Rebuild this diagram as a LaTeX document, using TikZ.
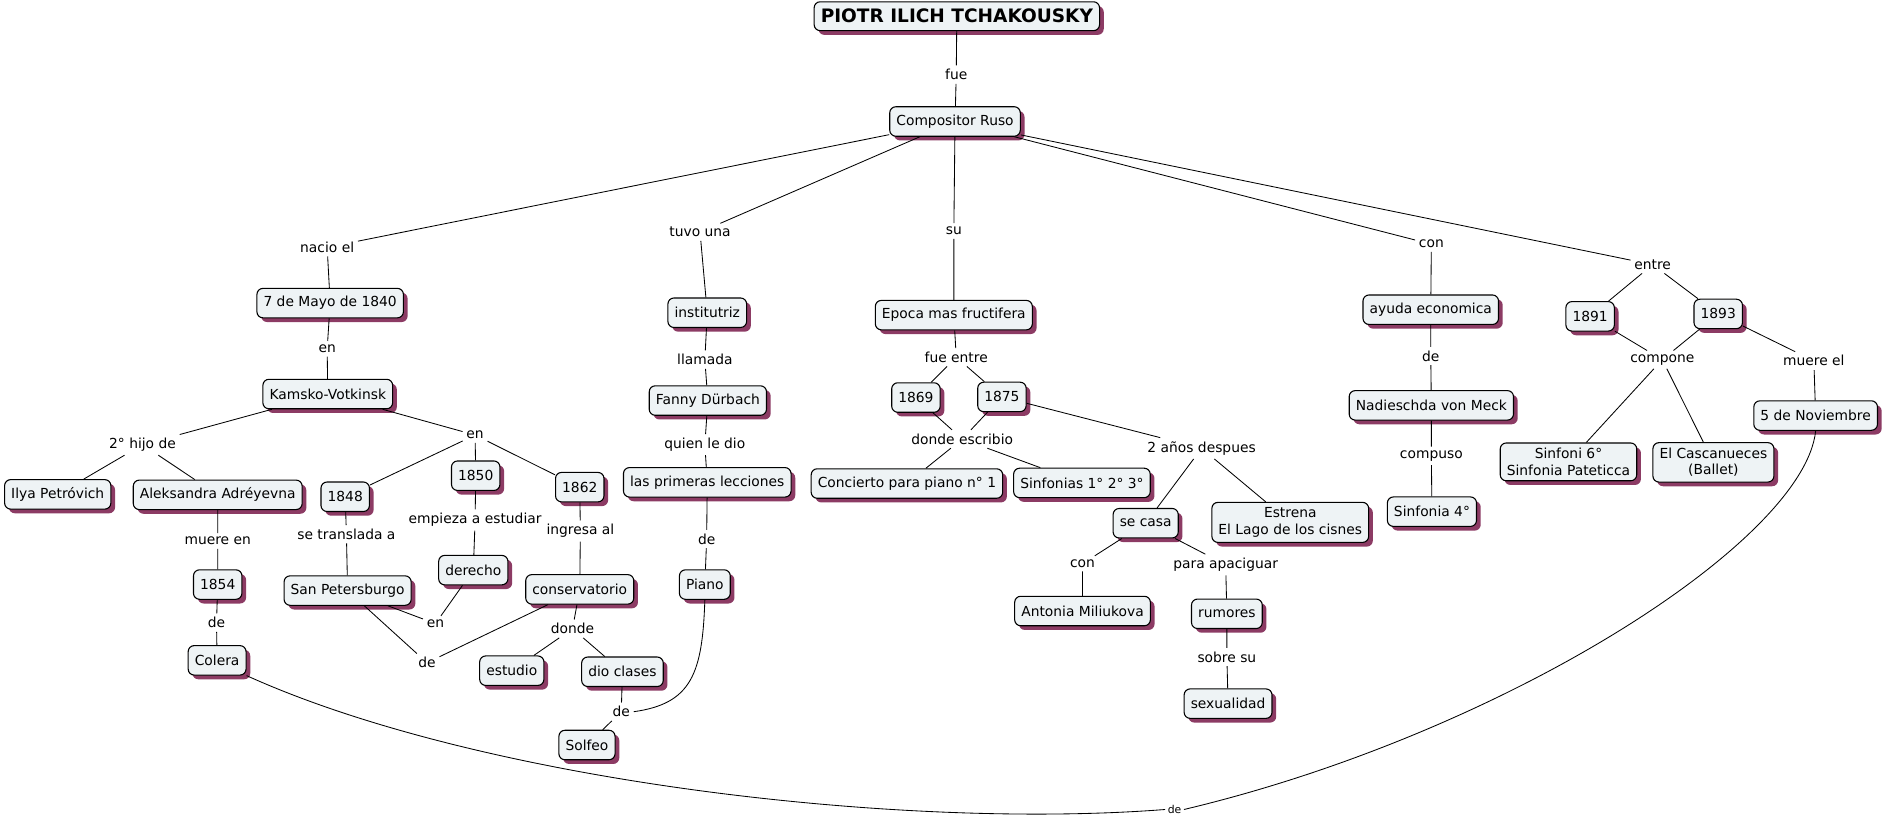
\documentclass[tikz,border=0pt]{standalone}
\usepackage{fontspec}
\setmainfont{DejaVu Sans}
\usetikzlibrary{shadows}
\definecolor{boxfill}{HTML}{EEF3F5}
\definecolor{shadowc}{HTML}{8C3B64}
\newcommand{\fs}{\fontsize{11.5}{13.5}\selectfont}
\tikzset{
  concept/.style={draw, rounded corners=5pt, fill=boxfill, line width=0.9pt,
    inner xsep=5.5pt, inner ysep=4.5pt, minimum height=24.5pt, align=center, font=\fs,
    drop shadow={shadow xshift=3.5pt, shadow yshift=-3.5pt, fill=shadowc, opacity=1}},
  link/.style={inner sep=3pt, font=\fs, align=center},
  conn/.style={line width=0.7pt, draw=black}
}
\begin{document}
\begin{tikzpicture}[x=1pt,y=-1pt]
\useasboundingbox (0,0) rectangle (1568,684);
% concepts
\node[concept, font=\fontsize{15.4}{17}\selectfont\bfseries, minimum height=24pt, inner ysep=3pt] (title) at (795.5,13.5) {PIOTR ILICH TCHAKOUSKY};
\node[concept] (comp) at (794,101) {Compositor Ruso};
\node[concept] (mayo) at (274.5,252) {7 de Mayo de 1840};
\node[concept] (kamsko) at (272.5,327.6) {Kamsko-Votkinsk};
\node[concept] (instit) at (588,260) {institutriz};
\node[concept] (fanny) at (588.5,333) {Fanny Dürbach};
\node[concept] (epoca) at (793,262) {Epoca mas fructifera};
\node[concept] (y1869) at (761.5,330.5) {1869};
\node[concept] (y1875) at (833,330) {1875};
\node[concept] (ayuda) at (1189.5,257.5) {ayuda economica};
\node[concept] (nadie) at (1190,337) {Nadieschda von Meck};
\node[concept] (y1891) at (1322,263) {1891};
\node[concept] (y1893) at (1428.5,261) {1893};
\node[concept] (nov) at (1509.5,345.5) {5 de Noviembre};
\node[concept] (ilya) at (48,411) {Ilya Petróvich};
\node[concept] (alek) at (181,411.4) {Aleksandra Adréyevna};
\node[concept] (y1848) at (287,413) {1848};
\node[concept] (y1850) at (395.5,395.5) {1850};
\node[concept] (y1862) at (482,405) {1862};
\node[concept] (lecc) at (588,401) {las primeras lecciones};
\node[concept] (conc) at (754,402) {Concierto para piano n° 1};
\node[concept] (y1854) at (181,486) {1854};
\node[concept] (sanpet) at (289,491) {San Petersburgo};
\node[concept] (derecho) at (393.5,474) {derecho};
\node[concept] (conserv) at (482,490) {conservatorio};
\node[concept] (piano) at (586,486) {Piano};
\node[concept] (colera) at (180.5,549) {Colera};
\node[concept] (estudio) at (425.5,557.6) {estudio};
\node[concept] (dioclases) at (517.5,558.5) {dio clases};
\node[concept] (solfeo) at (488,619.4) {Solfeo};
\node[concept] (sinf) at (899.5,401.5) {Sinfonias 1° 2° 3°};
\node[concept] (secasa) at (952.5,435) {se casa};
\node[concept] (estrena) at (1072.7,434.3) {Estrena\\El Lago de los cisnes};
\node[concept] (sinf4) at (1190.5,425.4) {Sinfonia 4°};
\node[concept] (sinf6) at (1304,384) {Sinfoni 6°\\Sinfonia Pateticca};
\node[concept] (casc) at (1424.5,384.4) {El Cascanueces\\(Ballet)};
\node[concept] (antonia) at (900,508) {Antonia Miliukova};
\node[concept] (rumores) at (1020,510.3) {rumores};
\node[concept] (sexual) at (1021,585) {sexualidad};
% linking phrases
\node[link] (lfue) at (795,62) {fue};
\node[link] (lnacio) at (272,205.6) {nacio el};
\node[link] (ltuvo) at (582,193) {tuvo una};
\node[link] (lsu) at (793,192) {su};
\node[link] (lcon) at (1190,203) {con};
\node[link] (lentre) at (1374,220) {entre};
\node[link] (len1) at (272,290) {en};
\node[link] (lllamada) at (586,299) {llamada};
\node[link] (lfueentre) at (795,297) {fue entre};
\node[link] (lde1) at (1189.5,296) {de};
\node[link] (lcompone) at (1382,299) {compone};
\node[link] (lmuere) at (1508,300) {muere el};
\node[link] (lhijo) at (118.5,369.7) {2° hijo de};
\node[link] (len2) at (395,361.7) {en};
\node[link] (lquien) at (586,369.7) {quien le dio};
\node[link] (ldonde1) at (800,365) {donde escribio};
\node[link] (lmuereen) at (181,449.8) {muere en};
\node[link] (ltransl) at (288,444.2) {se translada a};
\node[link] (lempieza) at (395,432.3) {empieza a estudiar};
\node[link] (lingresa) at (482.5,441.5) {ingresa al};
\node[link] (lde2) at (587.5,448.1) {de};
\node[link] (lde3) at (180,517.7) {de};
\node[link] (len3) at (362,518.5) {en};
\node[link] (lde4) at (355,551) {de};
\node[link] (ldonde2) at (476,522.7) {donde};
\node[link] (lde5) at (516.5,591.7) {de};
\node[link] (lanos) at (999,372.7) {2 años despues};
\node[link] (lcompuso) at (1190,379) {compuso};
\node[link] (lcon2) at (900,468.6) {con};
\node[link] (lpara) at (1019,469.5) {para apaciguar};
\node[link] (lsobre) at (1020,546.2) {sobre su};
\node[link, font=\fontsize{9}{11}\selectfont, inner sep=2pt] (lde6) at (976.5,673) {de};
% connectors
\begin{scope}[conn]
\draw (title) -- (lfue) -- (comp);
\draw (comp) -- (lnacio) -- (mayo) -- (len1) -- (kamsko);
\draw (comp) -- (ltuvo) -- (instit) -- (lllamada) -- (fanny) -- (lquien) -- (lecc) -- (lde2) -- (piano);
\draw (comp) -- (lsu) -- (epoca) -- (lfueentre);
\draw (lfueentre) -- (y1869);
\draw (lfueentre) -- (y1875);
\draw (y1869) -- (ldonde1);
\draw (y1875) -- (ldonde1);
\draw (ldonde1) -- (conc);
\draw (ldonde1) -- (sinf);
\draw (y1875) -- (lanos) -- (secasa);
\draw (lanos) -- (estrena);
\draw (secasa) -- (lcon2) -- (antonia);
\draw (secasa) -- (lpara) -- (rumores) -- (lsobre) -- (sexual);
\draw (comp) -- (lcon) -- (ayuda) -- (lde1) -- (nadie) -- (lcompuso) -- (sinf4);
\draw (comp) -- (lentre) -- (y1891);
\draw (lentre) -- (y1893);
\draw (y1891) -- (lcompone);
\draw (y1893) -- (lcompone);
\draw (lcompone) -- (sinf6);
\draw (lcompone) -- (casc);
\draw (y1893) -- (lmuere) -- (nov);
\draw (kamsko) -- (lhijo) -- (ilya);
\draw (lhijo) -- (alek);
\draw (alek) -- (lmuereen) -- (y1854) -- (lde3) -- (colera);
\draw (kamsko) -- (len2) -- (y1848);
\draw (len2) -- (y1850);
\draw (len2) -- (y1862);
\draw (y1848) -- (ltransl) -- (sanpet);
\draw (y1850) -- (lempieza) -- (derecho);
\draw (y1862) -- (lingresa) -- (conserv);
\draw (sanpet) -- (len3);
\draw (derecho) -- (len3);
\draw (sanpet) -- (lde4);
\draw (conserv) -- (lde4);
\draw (conserv) -- (ldonde2) -- (estudio);
\draw (ldonde2) -- (dioclases);
\draw (dioclases) -- (lde5) -- (solfeo);
\draw (piano.south) .. controls (584,560) and (575,585) .. (lde5.east);
\draw (colera.south east) .. controls (400,650) and (750,690) .. (lde6.west);
\draw (nov.south) .. controls (1500,450) and (1250,610) .. (lde6.east);
\end{scope}
\end{tikzpicture}
\end{document}
